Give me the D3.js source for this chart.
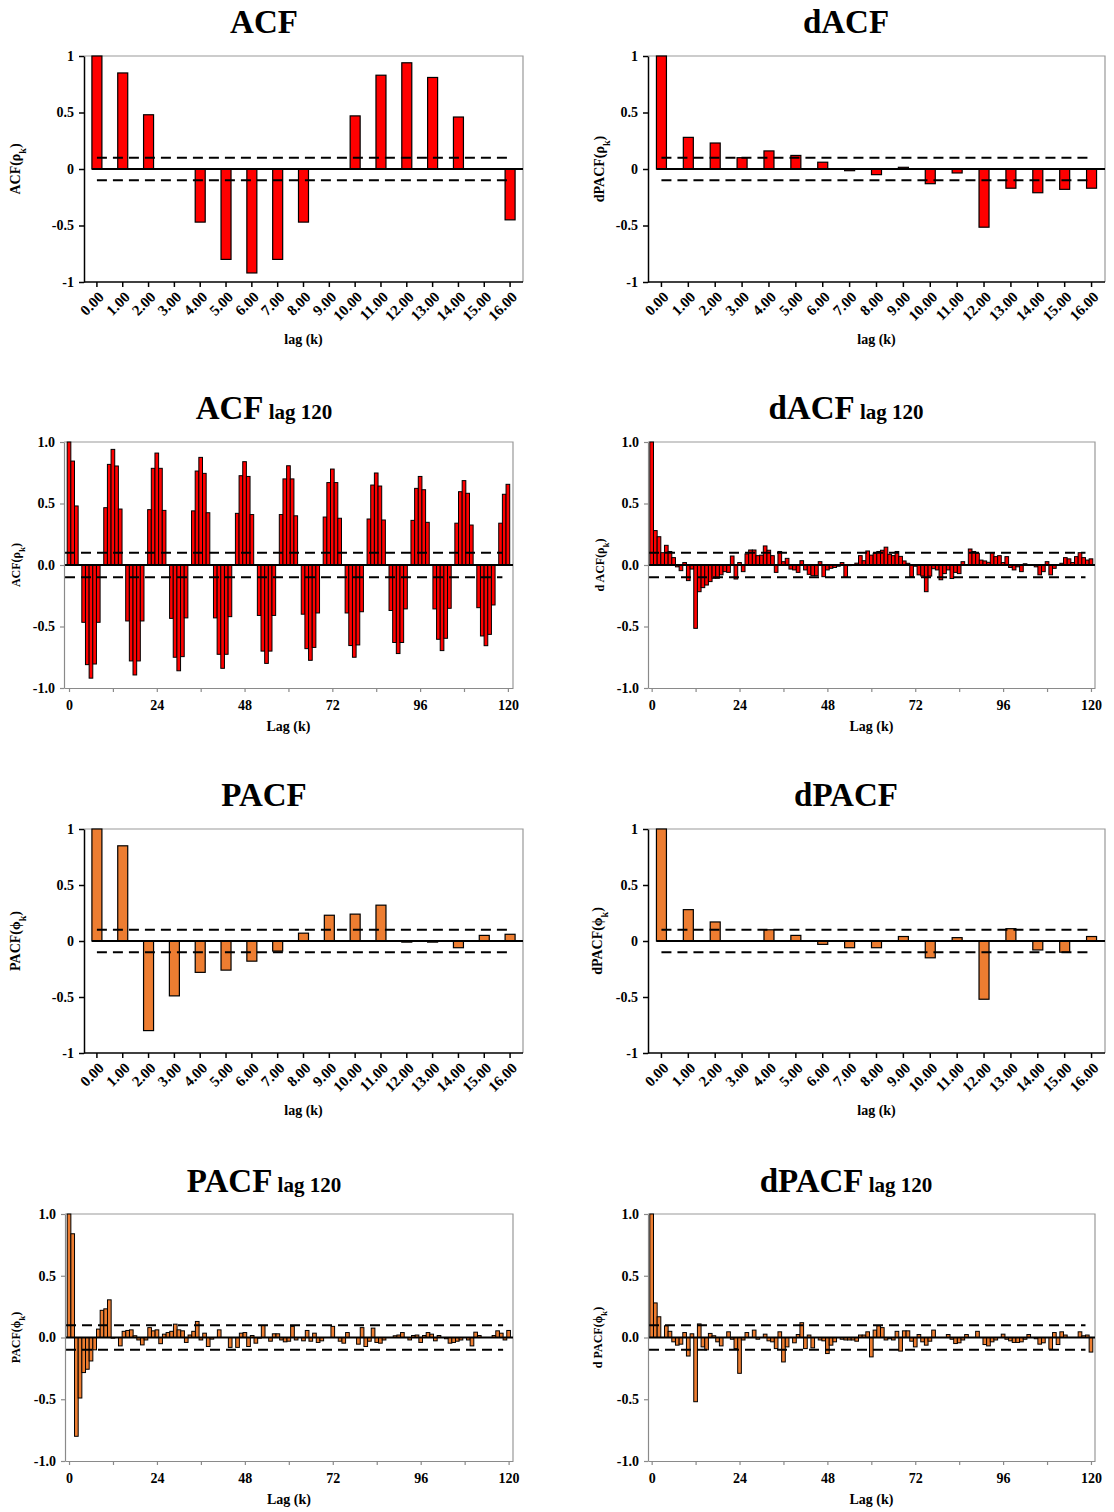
<!DOCTYPE html>
<html>
<head>
<meta charset="utf-8">
<script src="https://cdn.jsdelivr.net/npm/d3@7"></script>
<style>
  body { margin: 0; background: #fff; }
  svg text { font-family: "Liberation Serif", "Times New Roman", serif; font-weight: bold; fill: #000; }
</style>
</head>
<body>
<div id="chart"></div>
<script>
// lag categories
const lagLabels = ['0.00','1.00','2.00','3.00','4.00','5.00','6.00','7.00','8.00','9.00','10.00','11.00','12.00','13.00','14.00','15.00','16.00'];
const lags120 = d3.range(121);
const ticks120 = [0, 12, 24, 36, 48, 60, 72, 84, 96, 108, 120];
const yTicks = [-1, -0.5, 0, 0.5, 1];
const yTickLabels = ['-1', '-0.5', '0', '0.5', '1'];
const yTickLabels120 = ['-1.0', '-0.5', '0.0', '0.5', '1.0'];
const confLimits = [0.1, -0.1];

// lags 0..16
const acf16 = [1.0, 0.85, 0.48, 0, -0.47, -0.80, -0.92, -0.80, -0.47, 0, 0.47, 0.83, 0.94, 0.81, 0.46, 0, -0.45];
const dacf16 = [1.0, 0.28, 0.23, 0.10, 0.16, 0.12, 0.06, -0.015, -0.05, 0.015, -0.13, -0.035, -0.515, -0.17, -0.21, -0.18, -0.17];
const pacf16 = [1.0, 0.85, -0.80, -0.49, -0.28, -0.26, -0.18, -0.09, 0.07, 0.23, 0.24, 0.32, -0.01, -0.01, -0.06, 0.05, 0.06];
const dpacf16 = [1.0, 0.28, 0.17, 0, 0.10, 0.05, -0.03, -0.06, -0.06, 0.04, -0.15, 0.03, -0.52, 0.11, -0.08, -0.10, 0.04];

// lags 0..120
const acf120 = [
  1.0, 0.845, 0.48, 0, -0.466, -0.81, -0.92, -0.805, -0.466, 0,
  0.466, 0.818, 0.94, 0.805, 0.455, 0, -0.455, -0.78, -0.894, -0.78,
  -0.455, 0, 0.45, 0.786, 0.91, 0.786, 0.444, 0, -0.434, -0.75,
  -0.86, -0.745, -0.43, 0, 0.44, 0.764, 0.875, 0.745, 0.425, 0,
  -0.43, -0.726, -0.84, -0.726, -0.42, 0, 0.42, 0.726, 0.84, 0.72,
  0.41, 0, -0.41, -0.70, -0.80, -0.70, -0.41, 0, 0.41, 0.70,
  0.807, 0.70, 0.40, 0, -0.40, -0.68, -0.775, -0.67, -0.39, 0,
  0.39, 0.67, 0.78, 0.67, 0.38, 0, -0.39, -0.655, -0.75, -0.65,
  -0.38, 0, 0.374, 0.65, 0.748, 0.642, 0.366, 0, -0.37, -0.63,
  -0.72, -0.63, -0.357, 0, 0.363, 0.623, 0.72, 0.612, 0.347, 0,
  -0.357, -0.604, -0.696, -0.596, -0.352, 0, 0.34, 0.596, 0.686, 0.583,
  0.325, 0, -0.347, -0.577, -0.656, -0.564, -0.325, 0, 0.34, 0.575,
  0.656
];
const dacf120 = [
  1.0, 0.28, 0.23, 0.10, 0.16, 0.11, 0.06, -0.015, -0.046, 0.02,
  -0.127, -0.033, -0.515, -0.217, -0.184, -0.163, -0.135, -0.108, -0.108, -0.08,
  -0.054, -0.06, 0.073, -0.114, 0.02, -0.054, 0.09, 0.122, 0.122, 0.076,
  0.08, 0.155, 0.12, 0.076, -0.06, 0.11, 0.027, 0.054, -0.033, -0.04,
  -0.06, 0.035, -0.04, -0.076, -0.087, -0.087, 0.027, -0.095, -0.04, -0.027,
  -0.02, -0.01, 0.02, -0.10, -0.005, 0, 0.015, 0.076, 0.035, 0.114,
  0.08, 0.095, 0.11, 0.12, 0.145, 0.087, 0.076, 0.11, 0.07, 0.033,
  0.014, -0.095, -0.01, -0.08, -0.09, -0.217, -0.09, -0.03, -0.04, -0.12,
  -0.07, -0.04, -0.11, -0.06, -0.07, 0.027, 0, 0.13, 0.11, 0.095,
  0.04, 0.033, 0.022, 0.10, 0.068, 0.076, 0.02, 0.068, -0.02, -0.04,
  -0.015, -0.054, 0.01, 0, 0, -0.015, -0.08, -0.054, 0.027, -0.08,
  -0.027, 0, 0.014, 0.06, 0.05, 0.02, 0.068, 0.10, 0.06, 0.04,
  0.05
];
const pacf120 = [
  1.0, 0.84, -0.80, -0.49, -0.284, -0.257, -0.19, -0.10, 0.068, 0.22,
  0.232, 0.305, -0.005, 0, -0.068, 0.05, 0.057, 0.062, 0.014, -0.02,
  -0.06, -0.02, 0.08, 0.054, 0.062, -0.05, 0.027, 0.04, 0.05, 0.108,
  0.062, 0.054, -0.04, 0.02, 0.05, 0.13, -0.02, 0.035, -0.073, -0.013,
  0, 0.062, 0, 0, -0.08, 0, -0.08, 0.035, 0.04, -0.073,
  0.016, -0.046, -0.005, 0.097, 0, -0.03, 0.03, 0.03, -0.02, -0.035,
  -0.03, 0.09, -0.02, 0, -0.027, 0.057, -0.03, 0.035, -0.04, -0.027,
  0, 0, 0.09, 0, -0.03, -0.046, 0.04, 0, 0, -0.054,
  0.08, -0.073, -0.03, 0.076, -0.04, -0.046, -0.02, 0, 0, 0.014,
  0.02, 0.04, 0, -0.02, 0.016, 0.02, -0.04, 0.016, 0.04, 0.027,
  -0.027, 0.016, 0, -0.01, -0.046, -0.04, -0.03, -0.02, 0, -0.02,
  -0.068, 0.043, 0.016, 0, 0, 0, 0.016, 0.054, 0.035, -0.02,
  0.057
];
const dpacf120 = [
  1.0, 0.28, 0.168, 0, 0.095, 0.05, -0.035, -0.062, -0.054, 0.04,
  -0.15, 0.03, -0.52, 0.11, -0.076, -0.10, 0.033, 0.014, -0.035, -0.068,
  0, 0.046, -0.014, -0.09, -0.29, -0.02, 0.04, 0, 0.06, -0.014,
  0, 0.027, -0.027, -0.035, -0.09, 0.046, -0.198, -0.076, 0, -0.043,
  0.024, 0.12, -0.09, 0.02, -0.084, 0, -0.02, -0.027, -0.13, -0.062,
  -0.035, 0, -0.014, -0.02, -0.02, -0.02, -0.03, 0.02, 0.02, 0.046,
  -0.157, 0.06, 0.095, 0.08, -0.02, -0.01, -0.02, 0.05, -0.11, 0.054,
  0.054, -0.03, -0.076, 0.024, -0.035, -0.062, -0.03, 0.06, 0, 0,
  0, 0.024, -0.014, -0.049, -0.043, -0.02, 0.024, 0, 0, 0.05,
  0, -0.057, -0.068, -0.035, -0.02, 0, 0.027, -0.014, -0.027, -0.04,
  -0.04, -0.035, -0.014, 0.024, 0, -0.01, -0.054, -0.043, 0, -0.095,
  0.04, -0.057, 0.046, 0.02, 0, 0, 0, 0.046, 0.014, 0.02,
  -0.118
];

const red = '#ff0000';
const orange = '#ED7D31';

const svg = d3.select('#chart').append('svg')
  .attr('width', 1114).attr('height', 1512)
  .style('background', '#fff');

const panels = [
  {values: acf16, title: 'ACF', sub: '', ylab: ['ACF(ρ', 'k', ')'], color: red, small: true,
   left: 84, right: 523, top: 56, bottom: 282, tx: 264, ty: 33, ylx: 20},
  {values: dacf16, title: 'dACF', sub: '', ylab: ['dPACF(ρ', 'k', ')'], color: red, small: true,
   left: 648, right: 1105, top: 56, bottom: 282, tx: 846, ty: 33, ylx: 604},
  {values: acf120, title: 'ACF', sub: 'lag 120', ylab: ['ACF(ρ', 'k', ')'], color: red, small: false,
   left: 64, right: 513, top: 442, bottom: 688, xdom: [-1.37, 121.4], tx: 264, ty: 419, ylx: 20},
  {values: dacf120, title: 'dACF', sub: 'lag 120', ylab: ['d ACF(ρ', 'k', ')'], color: red, small: false,
   left: 648, right: 1095, top: 442, bottom: 688, xdom: [-1.0, 121.1], tx: 846, ty: 419, ylx: 604},
  {values: pacf16, title: 'PACF', sub: '', ylab: ['PACF(ϕ', 'k', ')'], color: orange, small: true,
   left: 84, right: 523, top: 829, bottom: 1053, tx: 264, ty: 806, ylx: 20},
  {values: dpacf16, title: 'dPACF', sub: '', ylab: ['dPACF(ϕ', 'k', ')'], color: orange, small: true,
   left: 648, right: 1105, top: 829, bottom: 1053, tx: 846, ty: 806, ylx: 602},
  {values: pacf120, title: 'PACF', sub: 'lag 120', ylab: ['PACF(ϕ', 'k', ')'], color: orange, small: false,
   left: 65, right: 513, top: 1214, bottom: 1461, xdom: [-1.1, 121.2], tx: 264, ty: 1192, ylx: 20},
  {values: dpacf120, title: 'dPACF', sub: 'lag 120', ylab: ['d PACF(ϕ', 'k', ')'], color: orange, small: false,
   left: 648, right: 1095, top: 1214, bottom: 1461, xdom: [-1.0, 121.1], tx: 846, ty: 1192, ylx: 602}
];

function drawPanel(p) {
  const g = svg.append('g');
  const y = d3.scaleLinear().domain([-1, 1]).range([p.bottom, p.top]);
  let x, xc, bw, dashFrom, dashTo, zeroFrom;
  if (p.small) {
    x = d3.scaleBand().domain(lagLabels).range([p.left, p.right]);
    xc = i => x(lagLabels[i]) + x.bandwidth() / 2;
    bw = 10;
    dashFrom = xc(0); dashTo = xc(16);
    zeroFrom = xc(0) - bw / 2;
  } else {
    x = d3.scaleLinear().domain(p.xdom).range([p.left, p.right]);
    xc = i => x(lags120[i]);
    bw = x(1) - x(0);
    dashFrom = p.left + 1; dashTo = x(118.5);
    zeroFrom = p.left;
  }
  const axisCol = p.small ? '#000' : '#8a8a8a';

  // top/right border
  g.append('path')
    .attr('d', `M${p.left},${p.top}H${p.right}V${p.bottom}`)
    .attr('fill', 'none').attr('stroke', '#999').attr('stroke-width', 1.2);

  // bars
  g.selectAll('rect').data(p.values).join('rect')
    .attr('x', (d, i) => xc(i) - bw / 2)
    .attr('width', bw)
    .attr('y', d => y(Math.max(0, d)))
    .attr('height', d => Math.abs(y(d) - y(0)))
    .attr('fill', p.color)
    .attr('stroke', '#000')
    .attr('stroke-width', p.small ? 1.2 : 1);

  // zero line
  g.append('line')
    .attr('x1', zeroFrom).attr('x2', p.right)
    .attr('y1', y(0)).attr('y2', y(0))
    .attr('stroke', '#000').attr('stroke-width', 2);

  // confidence limits
  confLimits.forEach(c => {
    g.append('line')
      .attr('x1', dashFrom).attr('x2', dashTo)
      .attr('y1', y(c)).attr('y2', y(c))
      .attr('stroke', '#000').attr('stroke-width', 2)
      .attr('stroke-dasharray', '10,6');
  });

  // y axis
  const yAxis = g.append('g')
    .attr('transform', `translate(${p.left},0)`)
    .call(d3.axisLeft(y).tickValues(yTicks)
      .tickFormat((d, i) => (p.small ? yTickLabels : yTickLabels120)[i])
      .tickSize(p.small ? 5 : 4).tickSizeOuter(0).tickPadding(5));
  yAxis.select('.domain').attr('stroke', axisCol).attr('stroke-width', p.small ? 1.5 : 1.2);
  yAxis.selectAll('.tick line').attr('stroke', axisCol).attr('stroke-width', p.small ? 1.5 : 1.2);
  yAxis.selectAll('text').style('font-size', '14px')
    .style('font-family', '"Liberation Serif", serif').style('font-weight', 'bold');

  // x axis
  const xAxis = g.append('g').attr('transform', `translate(0,${p.bottom})`);
  if (p.small) {
    xAxis.call(d3.axisBottom(x).tickSize(5).tickSizeOuter(0));
    xAxis.selectAll('.tick text')
      .attr('x', 0).attr('y', 0).attr('dy', 0)
      .attr('transform', 'translate(8,16) rotate(-45)')
      .style('text-anchor', 'end')
      .style('font-size', '15px');
    xAxis.select('.domain').attr('d', `M${p.left},0H${p.right}`);
  } else {
    xAxis.call(d3.axisBottom(x).tickValues(ticks120)
      .tickFormat(d => (d % 24 === 0 ? d : ''))
      .tickSize(4).tickSizeOuter(0).tickPadding(8));
    xAxis.selectAll('.tick text').style('font-size', '14px');
  }
  xAxis.select('.domain').attr('stroke', axisCol).attr('stroke-width', p.small ? 1.5 : 1.2);
  xAxis.selectAll('.tick line').attr('stroke', axisCol).attr('stroke-width', p.small ? 1.5 : 1.2);
  xAxis.selectAll('text')
    .style('font-family', '"Liberation Serif", serif').style('font-weight', 'bold');

  // x axis title
  g.append('text')
    .attr('x', (p.left + p.right) / 2)
    .attr('y', p.bottom + (p.small ? 62 : 43))
    .attr('text-anchor', 'middle')
    .style('font-size', '14px')
    .text(p.small ? 'lag (k)' : 'Lag (k)');

  // y axis title
  const yl = g.append('text')
    .attr('transform', `translate(${p.ylx},${(p.top + p.bottom) / 2}) rotate(-90)`)
    .attr('text-anchor', 'middle')
    .style('font-size', p.small ? '14px' : '12px');
  yl.append('tspan').text(p.ylab[0]);
  yl.append('tspan').attr('baseline-shift', 'sub').style('font-size', p.small ? '10px' : '9px').text(p.ylab[1]);
  yl.append('tspan').text(p.ylab[2]);

  // title
  const t = g.append('text')
    .attr('x', p.tx).attr('y', p.ty)
    .attr('text-anchor', 'middle');
  t.append('tspan').style('font-size', '33px').text(p.title);
  if (p.sub) t.append('tspan').style('font-size', '21px').text(' ' + p.sub);
}

panels.forEach(drawPanel);
</script>
</body>
</html>
